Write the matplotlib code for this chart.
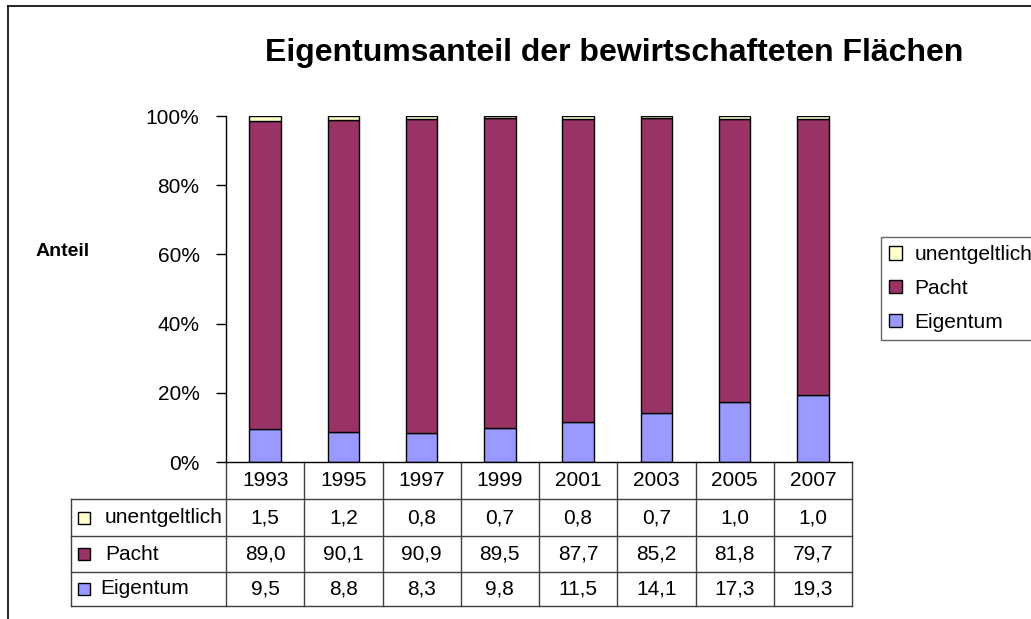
import matplotlib
matplotlib.use("Agg")
import matplotlib.pyplot as plt
from matplotlib.patches import Patch, Rectangle
from matplotlib.lines import Line2D
from matplotlib.transforms import blended_transform_factory
from matplotlib.ticker import FuncFormatter

plt.rcParams['font.family'] = ['Liberation Sans', 'DejaVu Sans']

years = ["1993", "1995", "1997", "1999", "2001", "2003", "2005", "2007"]
eigentum = [9.5, 8.8, 8.3, 9.8, 11.5, 14.1, 17.3, 19.3]
pacht = [89.0, 90.1, 90.9, 89.5, 87.7, 85.2, 81.8, 79.7]
unentgeltlich = [1.5, 1.2, 0.8, 0.7, 0.8, 0.7, 1.0, 1.0]

series = [("Eigentum", eigentum, "#9999FF"),
          ("Pacht", pacht, "#993366"),
          ("unentgeltlich", unentgeltlich, "#FFFFCC")]

W, H = 1031, 619
fs = 15
fig = plt.figure(figsize=(W / 100, H / 100), dpi=100)

# outer chart frame (left and top edges visible)
fig.add_artist(Line2D([8 / W, 8 / W], [0, 1 - 6 / H], color="black", lw=1.2))
fig.add_artist(Line2D([8 / W, 1], [1 - 6 / H, 1 - 6 / H], color="black", lw=1.2))

ax = fig.add_axes([226 / W, 1 - 462 / H, (852 - 226) / W, (462 - 116) / H])

totals = [sum(v) for v in zip(eigentum, pacht, unentgeltlich)]
x = list(range(len(years)))
bottom = [0.0] * len(years)
for name, vals, col in series:
    share = [v / t * 100 for v, t in zip(vals, totals)]
    ax.bar(x, share, 0.4, bottom=bottom, color=col, edgecolor="black", linewidth=1)
    bottom = [b + s for b, s in zip(bottom, share)]

ax.set_xlim(-0.5, len(years) - 0.5)
ax.set_ylim(0, 100)
ax.set_yticks(range(0, 101, 20))
ax.yaxis.set_major_formatter(FuncFormatter(lambda v, p: f"{int(v)}%"))
ax.tick_params(axis="y", direction="out", length=7, width=1, pad=12, labelsize=fs)
ax.set_xticks([])
for s in ["top", "right"]:
    ax.spines[s].set_visible(False)
ax.spines["left"].set_linewidth(1)
ax.spines["bottom"].set_linewidth(1)

fig.text(63 / W, 1 - 251 / H, "Anteil", fontsize=14, fontweight="bold", ha="center", va="center")
fig.text(614 / W, 1 - 53 / H, "Eigentumsanteil der bewirtschafteten Flächen",
         fontsize=23, fontweight="bold", ha="center", va="center")

# data table below the plot
tr = blended_transform_factory(ax.transData, ax.transAxes)
ah = 462 - 116
rows_px = [462, 499, 536, 572, 606]
yf = [(462 - r) / ah for r in rows_px]
unit_px = (852 - 226) / len(years)
left_units = -0.5 - (226 - 71) / unit_px
lc = "#404040"
lw = 1

def hline(x0, x1, y):
    ax.add_line(Line2D([x0, x1], [y, y], transform=tr, color=lc, lw=lw, clip_on=False))

def vline(xv, y0, y1):
    ax.add_line(Line2D([xv, xv], [y0, y1], transform=tr, color=lc, lw=lw, clip_on=False))

for i in range(len(years) + 1):
    vline(i - 0.5, yf[0], yf[-1])
vline(left_units, yf[1], yf[-1])
for y in yf[1:]:
    hline(left_units, len(years) - 0.5, y)

for i, yr in enumerate(years):
    ax.text(i, (yf[0] + yf[1]) / 2, yr, transform=tr, ha="center", va="center",
            fontsize=fs, clip_on=False)

table_rows = list(reversed(series))
label_px = [105, 105, 100]
sw = 12 / unit_px
sh = 12 / ah
for r, (name, vals, col) in enumerate(table_rows):
    yc = (yf[r + 1] + yf[r + 2]) / 2
    ax.add_patch(Rectangle((left_units + 7 / unit_px, yc - sh / 2), sw, sh, transform=tr,
                           facecolor=col, edgecolor="black", lw=1, clip_on=False))
    ax.text(left_units + (label_px[r] - 71) / unit_px, yc, name, transform=tr, ha="left",
            va="center", fontsize=fs, clip_on=False)
    for i, v in enumerate(vals):
        ax.text(i, yc, f"{v:.1f}".replace(".", ","), transform=tr, ha="center",
                va="center", fontsize=fs, clip_on=False)

# legend runs past the right edge, as in the original chart
handles = [Patch(facecolor=col, edgecolor="black", label=name) for name, vals, col in table_rows]
leg = fig.legend(handles=handles, loc="upper left", bbox_to_anchor=(881 / W, 1 - 237 / H),
                 fontsize=fs, frameon=True, fancybox=False, edgecolor="#404040",
                 handlelength=0.6, handleheight=0.6, handletextpad=0.6,
                 labelspacing=0.7, borderpad=0.4, borderaxespad=0)
leg.get_frame().set_linewidth(1)

fig.savefig("out.png", dpi=100)
